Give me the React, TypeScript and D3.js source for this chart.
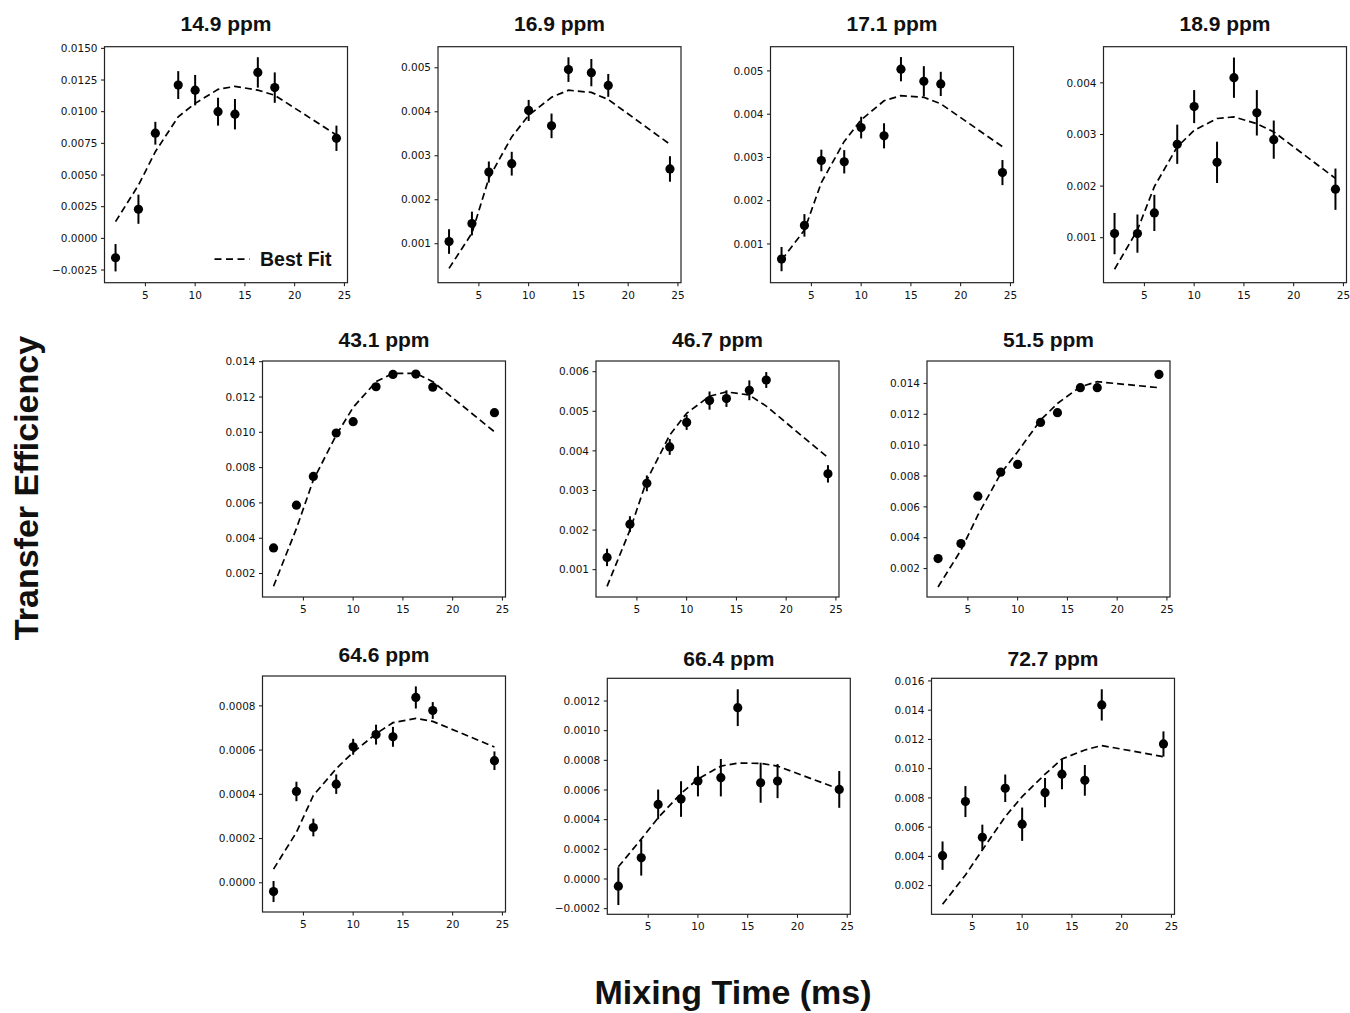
import * as d3 from 'd3'

const W = 1350
const H = 1013

// mixing times (ms), shared by every panel
const mixingTime = [2, 4.3, 6, 8.3, 10, 12.3, 14, 16.3, 18, 24.2]
const xTicks = [5, 10, 15, 20, 25]

// 14.9 ppm
const te149 = [-0.00153, 0.0023, 0.0083, 0.0121, 0.0117, 0.01, 0.0098, 0.0131, 0.0119, 0.0079]
const err149 = [0.00108, 0.00115, 0.0009, 0.0011, 0.0012, 0.0011, 0.0012, 0.0012, 0.0012, 0.001]
const fit149 = [0.00132, 0.0042, 0.00684, 0.0096, 0.01066, 0.01176, 0.012, 0.0117, 0.0113, 0.00816]
// 16.9 ppm
const te169 = [0.00105, 0.00146, 0.00263, 0.00282, 0.00403, 0.00368, 0.00496, 0.00489, 0.0046, 0.0027]
const err169 = [0.00028, 0.00027, 0.00024, 0.00027, 0.00024, 0.00028, 0.00028, 0.00031, 0.00026, 0.00029]
const fit169 = [0.00044, 0.00124, 0.00249, 0.00343, 0.00392, 0.00433, 0.00449, 0.00444, 0.00428, 0.00326]
// 17.1 ppm
const te171 = [0.00065, 0.00143, 0.00293, 0.0029, 0.00369, 0.0035, 0.00504, 0.00476, 0.0047, 0.00265]
const err171 = [0.00028, 0.00026, 0.00025, 0.00027, 0.00025, 0.00029, 0.00028, 0.00035, 0.00028, 0.00029]
const fit171 = [0.00063, 0.00132, 0.00242, 0.00337, 0.00387, 0.00431, 0.00443, 0.00439, 0.00424, 0.00325]
// 18.9 ppm
const te189 = [0.00108, 0.00108, 0.00148, 0.00281, 0.00354, 0.00246, 0.0041, 0.00342, 0.0029, 0.00194]
const err189 = [0.0004, 0.00037, 0.00035, 0.00038, 0.00032, 0.0004, 0.00039, 0.00044, 0.00037, 0.0004]
const fit189 = [0.00039, 0.00115, 0.00199, 0.00276, 0.00308, 0.00331, 0.00334, 0.00321, 0.00305, 0.00215]
// 43.1 ppm
const te431 = [0.00345, 0.00587, 0.0075, 0.00996, 0.0106, 0.01258, 0.01328, 0.0133, 0.01256, 0.01111]
const err431 = [0, 0, 0, 0, 0, 0, 0, 0, 0, 0]
const fit431 = [0.00128, 0.00455, 0.0073, 0.00984, 0.01141, 0.01287, 0.01334, 0.01334, 0.01287, 0.01003]
// 46.7 ppm
const te467 = [0.00131, 0.00215, 0.00318, 0.0041, 0.00472, 0.00527, 0.00532, 0.00553, 0.00579, 0.00342]
const err467 = [0.00022, 0.0002, 0.0002, 0.0002, 0.00019, 0.00023, 0.00021, 0.00025, 0.0002, 0.00022]
const fit467 = [0.00058, 0.002, 0.00326, 0.0044, 0.00495, 0.00538, 0.00549, 0.00541, 0.00513, 0.00383]
// 51.5 ppm
const te515 = [0.00265, 0.00362, 0.00669, 0.00825, 0.00875, 0.01147, 0.0121, 0.01372, 0.01372, 0.01458]
const err515 = [0, 0, 0, 0, 0, 0, 0, 0, 0, 0]
const fit515 = [0.00081, 0.00319, 0.00546, 0.00816, 0.00957, 0.01162, 0.0127, 0.01378, 0.01411, 0.01372]
// 64.6 ppm
const te646 = [-0.0000394, 0.000413, 0.00025, 0.000446, 0.000615, 0.00067, 0.00066, 0.000838, 0.000779, 0.000552]
const err646 = [0.0000476, 0.000044, 0.00004, 0.000044, 0.000036, 0.000045, 0.000045, 0.00005, 0.000038, 0.000042]
const fit646 = [0.000062, 0.000228, 0.000395, 0.000516, 0.00059, 0.000674, 0.000724, 0.000743, 0.00073, 0.000614]
// 66.4 ppm
const te664 = [-0.0000486, 0.000143, 0.000503, 0.000539, 0.00066, 0.000683, 0.001155, 0.000649, 0.00066, 0.000604]
const err664 = [0.000127, 0.00012, 0.0001, 0.00012, 0.000103, 0.000126, 0.000124, 0.000135, 0.000115, 0.000124]
const fit664 = [0.000082, 0.000269, 0.000413, 0.000577, 0.000674, 0.000761, 0.000781, 0.00078, 0.000761, 0.000606]
// 72.7 ppm
const te727 = [0.00405, 0.00775, 0.00531, 0.00866, 0.0062, 0.00836, 0.00962, 0.0092, 0.01436, 0.01169]
const err727 = [0.00097, 0.00106, 0.00086, 0.00094, 0.00114, 0.001, 0.00103, 0.00105, 0.00107, 0.00086]
const fit727 = [0.00072, 0.00273, 0.00444, 0.00672, 0.00809, 0.00962, 0.01066, 0.01128, 0.01158, 0.01082]

// y tick values per panel
const ticks149 = [-0.0025, 0, 0.0025, 0.005, 0.0075, 0.01, 0.0125, 0.015]
const ticks169 = [0.001, 0.002, 0.003, 0.004, 0.005]
const ticks189 = [0.001, 0.002, 0.003, 0.004]
const ticks431 = [0.002, 0.004, 0.006, 0.008, 0.01, 0.012, 0.014]
const ticks467 = [0.001, 0.002, 0.003, 0.004, 0.005, 0.006]
const ticks646 = [0, 0.0002, 0.0004, 0.0006, 0.0008]
const ticks664 = [-0.0002, 0, 0.0002, 0.0004, 0.0006, 0.0008, 0.001, 0.0012]
const ticks727 = [0.002, 0.004, 0.006, 0.008, 0.01, 0.012, 0.014, 0.016]

const panels = [
  { title: '14.9 ppm', te: te149, err: err149, fit: fit149, ticks: ticks149, dec: 4, yDom: [-0.0035, 0.01513], left: 104.5, top: 46.7, titleY: 30.5, legend: true },
  { title: '16.9 ppm', te: te169, err: err169, fit: fit169, ticks: ticks169, dec: 3, yDom: [0.000114, 0.00548], left: 438, top: 46.7, titleY: 30.5 },
  { title: '17.1 ppm', te: te171, err: err171, fit: fit171, ticks: ticks169, dec: 3, yDom: [0.000105, 0.00556], left: 770.5, top: 46.7, titleY: 30.5 },
  { title: '18.9 ppm', te: te189, err: err189, fit: fit189, ticks: ticks189, dec: 3, yDom: [0.000129, 0.0047], left: 1103.5, top: 46.7, titleY: 30.5 },
  { title: '43.1 ppm', te: te431, err: err431, fit: fit431, ticks: ticks431, dec: 3, yDom: [0.00067, 0.01404], left: 262.5, top: 361, titleY: 347 },
  { title: '46.7 ppm', te: te467, err: err467, fit: fit467, ticks: ticks467, dec: 3, yDom: [0.00031, 0.00627], left: 596, top: 361, titleY: 347 },
  { title: '51.5 ppm', te: te515, err: err515, fit: fit515, ticks: ticks431, dec: 3, yDom: [0.00016, 0.01545], left: 927, top: 361, titleY: 347 },
  { title: '64.6 ppm', te: te646, err: err646, fit: fit646, ticks: ticks646, dec: 4, yDom: [-0.000132, 0.000935], left: 262.5, top: 676, titleY: 662 },
  { title: '66.4 ppm', te: te664, err: err664, fit: fit664, ticks: ticks664, dec: 4, yDom: [-0.000238, 0.001353], left: 607.3, top: 678.3, titleY: 666 },
  { title: '72.7 ppm', te: te727, err: err727, fit: fit727, ticks: ticks727, dec: 3, yDom: [0.000039, 0.01618], left: 931.5, top: 678.3, titleY: 666 },
]

const PW = 243
const PH = 236
const xDomain = [0.89, 25.31]
const tickFont = '"DejaVu Sans", sans-serif'
const boldFont = '"Liberation Sans", Arial, sans-serif'
const ink = '#111'

function Panel({ p }: { p: any }) {
  const x = d3.scaleLinear().domain(xDomain).range([p.left, p.left + PW])
  const y = d3.scaleLinear().domain(p.yDom).range([p.top + PH, p.top])
  const bottom = p.top + PH
  const fmt = d3.format(`.${p.dec}f`)
  const line = d3.line<number>()
    .x((_, i) => x(mixingTime[i]))
    .y(d => y(d))

  return (
    <g>
      <text x={p.left + PW / 2} y={p.titleY} textAnchor="middle" fontFamily={boldFont}
        fontWeight="bold" fontSize={21} fill={ink}>{p.title}</text>
      {p.ticks.map((t: number) => (
        <g key={'y' + t}>
          <line x1={p.left - 3.5} x2={p.left} y1={y(t)} y2={y(t)} stroke={ink} strokeWidth={1} />
          <text x={p.left - 7} y={y(t)} dy="0.35em" textAnchor="end" fontFamily={tickFont}
            fontSize={10.5} fill={ink}>{fmt(t)}</text>
        </g>
      ))}
      {xTicks.map(t => (
        <g key={'x' + t}>
          <line x1={x(t)} x2={x(t)} y1={bottom} y2={bottom + 3.5} stroke={ink} strokeWidth={1} />
          <text x={x(t)} y={bottom + 12.5} dy="0.35em" textAnchor="middle" fontFamily={tickFont}
            fontSize={10.5} fill={ink}>{t}</text>
        </g>
      ))}
      {p.te.map((v: number, i: number) => (
        <g key={'pt' + i}>
          {p.err[i] > 0 && (
            <line x1={x(mixingTime[i])} x2={x(mixingTime[i])} y1={y(v - p.err[i])} y2={y(v + p.err[i])}
              stroke="#000" strokeWidth={2} />
          )}
          <circle cx={x(mixingTime[i])} cy={y(v)} r={4.6} fill="#000" />
        </g>
      ))}
      <path d={line(p.fit) || ''} fill="none" stroke="#000" strokeWidth={1.7} strokeDasharray="7,4" />
      <rect x={p.left} y={p.top} width={PW} height={PH} fill="none" stroke="#222" strokeWidth={1.2} />
      {p.legend && (
        <g>
          <line x1={p.left + 110} x2={p.left + 145} y1={p.top + 212.5} y2={p.top + 212.5}
            stroke="#000" strokeWidth={1.7} strokeDasharray="7,4.5" />
          <text x={p.left + 155.5} y={p.top + 219.5} fontFamily={boldFont} fontWeight="bold"
            fontSize={19.5} fill={ink}>Best Fit</text>
        </g>
      )}
    </g>
  )
}

export default function App() {
  return (
    <svg width={W} height={H} style={{ position: 'absolute', left: 0, top: 0, background: '#fff' }}>
      <rect x={0} y={0} width={W} height={H} fill="#fff" />
      {panels.map(p => <Panel key={p.title} p={p} />)}
      <text transform="translate(38,488) rotate(-90)" textAnchor="middle" fontFamily={boldFont}
        fontWeight="bold" fontSize={34} fill={ink}>Transfer Efficiency</text>
      <text x={733} y={1004} textAnchor="middle" fontFamily={boldFont} fontWeight="bold"
        fontSize={34} fill={ink}>Mixing Time (ms)</text>
    </svg>
  )
}
